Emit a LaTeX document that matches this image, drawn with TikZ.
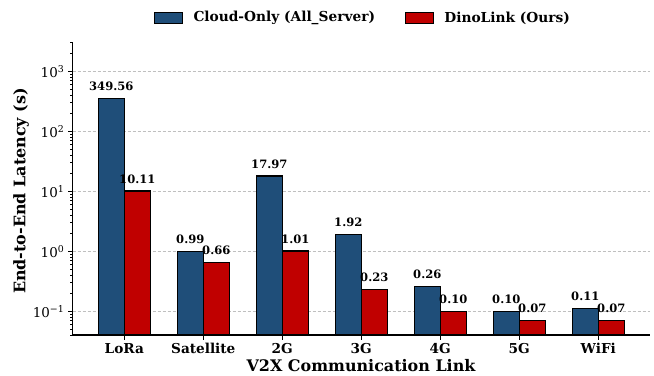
\documentclass[tikz,border=0pt]{standalone}
\usepackage{fontspec}
\setmainfont{DejaVu Serif}
\usetikzlibrary{positioning}
\definecolor{cloudblue}{HTML}{1F4E79}
\definecolor{dinored}{HTML}{C00000}

\begin{document}
\begin{tikzpicture}[x=1bp,y=1bp]

% definitions
\tikzstyle{cloudbar} = [draw=black, line width=1.2bp, fill=cloudblue]
\tikzstyle{dinobar} = [draw=black, line width=1.2bp, fill=dinored]
\tikzstyle{valuelabel} = [font=\bfseries\fontsize{11.6}{13}\selectfont, inner sep=0pt, anchor=south]
\tikzstyle{ticklabel} = [font=\fontsize{13.5}{15}\selectfont, inner sep=0pt, anchor=east]
\tikzstyle{catlabel} = [font=\bfseries\fontsize{13.7}{15}\selectfont, inner sep=0pt, anchor=north]
\tikzstyle{axislabel} = [font=\bfseries\fontsize{16}{18}\selectfont, inner sep=0pt]
\tikzstyle{legendpatch} = [rectangle, draw=black, line width=1bp, minimum width=28bp, minimum height=10.5bp, inner sep=0pt]
\tikzstyle{legendtext} = [font=\bfseries\fontsize{13.8}{15}\selectfont, inner sep=0pt]
\tikzstyle{gridline} = [gray!50, line width=0.7bp, dash pattern=on 3bp off 2bp]
\tikzstyle{axisline} = [black, line width=1.2bp]

\useasboundingbox (0,0) rectangle (654,375);

% y(v) = 123.7 + 60*log10(v)
\def\ybase{123.7}
\def\ydec{60}

\coordinate (o) at (72.7,40);
\coordinate (ytop) at (72.7,332);
\coordinate (xend) at (650,40);

% grid
\foreach \e in {-1,0,1,2,3}
  \draw[gridline] (72.7,{\ybase+\ydec*\e}) -- (650,{\ybase+\ydec*\e});

% bars
\foreach \i/\name/\c/\d in {0/LoRa/349.56/10.11, 1/Satellite/0.99/0.66, 2/2G/17.97/1.01, 3/3G/1.92/0.23, 4/4G/0.26/0.10, 5/5G/0.10/0.07, 6/WiFi/0.11/0.07}{
  \pgfmathsetmacro{\cx}{124.3+79*\i}
  \pgfmathsetmacro{\yc}{\ybase+\ydec*log10(\c)}
  \pgfmathsetmacro{\yd}{\ybase+\ydec*log10(\d)}
  \draw[cloudbar] ({\cx-26},40) rectangle (\cx,\yc);
  \draw[dinobar] (\cx,40) rectangle ({\cx+26},\yd);
  \node (c\i) [valuelabel] at ({\cx-13},{\yc+7.5}) {\c};
  \node (d\i) [valuelabel] at ({\cx+13},{\yd+7.5}) {\d};
  \draw[axisline] (\cx,40) -- ++(0,-5);
  \node (x\i) [catlabel] at (\cx,32) {\name};
}

% axes
\draw[axisline] (ytop) -- (o) -- (xend);

% y ticks
\foreach \e/\s in {-1/−1, 0/0, 1/1, 2/2, 3/3}{
  \draw[axisline] (72.7,{\ybase+\ydec*\e}) -- ++(-5,0);
  \node (t\e) [ticklabel] at (64.5,{\ybase+\ydec*\e}) {10\textsuperscript{\s}};
}
\begin{scope}
  \clip (60,39.5) rectangle (73,332.5);
  \foreach \k in {-2,...,3}
    \foreach \m in {2,...,9}
      \draw[black, line width=0.8bp] (72.7,{\ybase+\ydec*(\k+log10(\m))}) -- ++(-3,0);
\end{scope}

% labels
\node (xlabel) [axislabel] at (361,9) {V2X Communication Link};
\node (ylabel) [axislabel, rotate=90] at (21,184) {End-to-End Latency (s)};

% legend
\node (lgc) [legendpatch, fill=cloudblue] at (168.3,357) {};
\node (lgctext) [legendtext, right=10.5bp of lgc] {Cloud-Only (All\_Server)};
\node (lgd) [legendpatch, fill=dinored, right=29.5bp of lgctext] {};
\node (lgdtext) [legendtext, right=10.5bp of lgd] {DinoLink (Ours)};

\end{tikzpicture}
\end{document}
